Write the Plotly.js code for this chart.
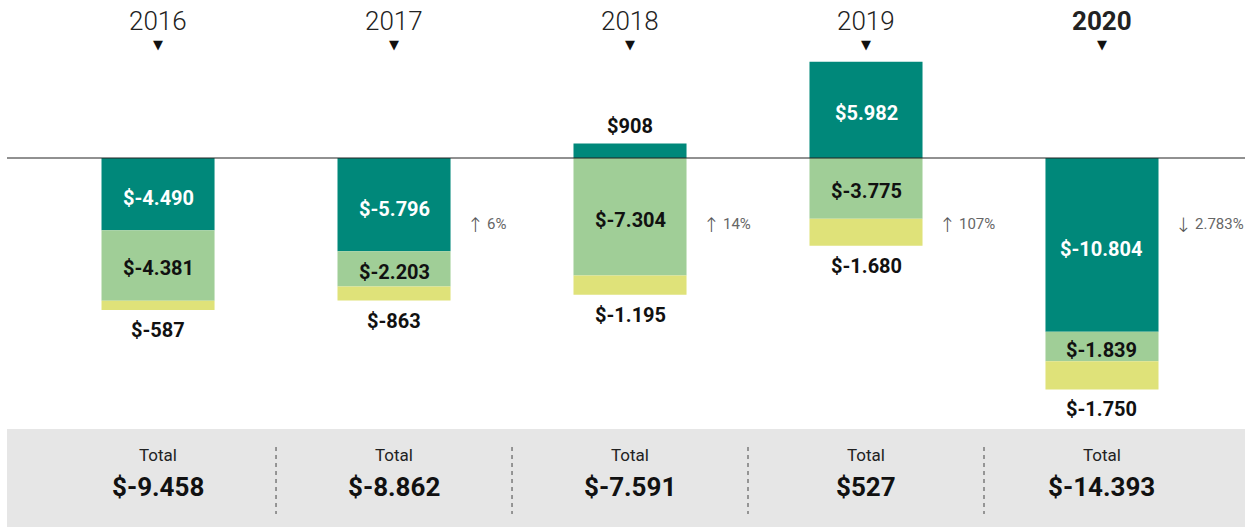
<!DOCTYPE html>
<html>
<head>
<meta charset="utf-8">
<script src="https://cdn.plot.ly/plotly-3.0.1.min.js"></script>
<style>html,body{margin:0;padding:0;background:#fff;}#chart{width:1253px;height:527px;}</style>
</head>
<body>
<div id="chart"></div>
<script>
const years = ['2016', '2017', '2018', '2019', '2020'];
const darkVals = [-4490, -5796, 908, 5982, -10804];
const lightVals = [-4381, -2203, -7304, -3775, -1839];
const yellowVals = [-587, -863, -1195, -1680, -1750];
const totals = [-9458, -8862, -7591, 527, -14393];
const changeArrows = ['', '↑', '↑', '↑', '↓'];
const changeLabels = ['', '6%', '14%', '107%', '2.783%'];
const highlightYear = '2020';
const totalLabel = 'Total';

const W = 1253, H = 527;
const DARK = '#00887A', LIGHT = '#A0CE97', YELLOW = '#DFE279';
const FONT = 'Roboto, "Open Sans", sans-serif';

function fmt(v) {
  const s = Math.abs(v).toString().replace(/\B(?=(\d{3})+(?!\d))/g, '.');
  return '$' + (v < 0 ? '-' : '') + s;
}
function py(p) { return 1 - p / H; }

const idx = years.map((_, i) => i);
const barW = 0.479;
const traces = [
  {type: 'bar', x: idx, y: darkVals, marker: {color: DARK}, width: barW, hoverinfo: 'skip'},
  {type: 'bar', x: idx, y: lightVals, marker: {color: LIGHT}, width: barW, hoverinfo: 'skip'},
  {type: 'bar', x: idx, y: yellowVals, marker: {color: YELLOW}, width: barW, hoverinfo: 'skip'}
];

const yMax = 9826, yMin = -22948;
const pxPerUnit = H / (yMax - yMin);
const ann = [];
const shapes = [];

shapes.push({type: 'rect', xref: 'paper', yref: 'paper', x0: 0, x1: 1, y0: 0, y1: py(429),
  fillcolor: '#E6E6E6', line: {width: 0}, layer: 'below'});
shapes.push({type: 'line', xref: 'paper', yref: 'y', x0: 0, x1: 1, y0: 0, y1: 0,
  line: {color: '#222', width: 1}, layer: 'above'});

const bold = (size, color) => ({family: FONT, size: size, color: color, weight: 700});
const A = (o) => Object.assign({showarrow: false, xanchor: 'center', yanchor: 'middle'}, o);

years.forEach((yr, i) => {
  const hl = yr === highlightYear;
  ann.push(A({x: i, xref: 'x', y: py(21), yref: 'paper', text: yr,
    font: {family: FONT, size: 26, color: '#222', weight: hl ? 700 : 300}}));
  ann.push(A({x: i, xref: 'x', y: py(44), yref: 'paper', text: '▼',
    font: {family: 'DejaVu Sans', size: 13, color: '#111'}}));

  const d = darkVals[i];
  const dpx = Math.abs(d) * pxPerUnit;
  if (dpx >= 30) {
    ann.push(A({x: i, y: d / 2, yshift: d < 0 ? -4 : -3, text: fmt(d), font: bold(20, '#fff')}));
  } else {
    ann.push(A({x: i, y: d, yanchor: 'bottom', yshift: 3, text: fmt(d), font: bold(20, '#111')}));
  }
  const base = Math.min(d, 0);
  const l = lightVals[i];
  ann.push(A({x: i, y: base + l / 2, yshift: -3, text: fmt(l), font: bold(20, '#111')}));
  const ybot = base + l + yellowVals[i];
  ann.push(A({x: i, y: ybot, yanchor: 'top', yshift: -6, text: fmt(yellowVals[i]), font: bold(20, '#111')}));

  if (changeLabels[i]) {
    ann.push(A({x: i + 0.345, y: py(225), yref: 'paper', text: changeArrows[i],
      font: {family: 'DejaVu Sans', size: 20, color: '#555', weight: 200}}));
    ann.push(A({x: i + 0.345, xanchor: 'left', xshift: 10, y: py(224), yref: 'paper', text: changeLabels[i],
      font: {family: FONT, size: 15, color: '#666'}}));
  }

  ann.push(A({x: i, y: py(455), yref: 'paper', text: totalLabel,
    font: {family: FONT, size: 17, color: '#222'}}));
  ann.push(A({x: i, y: py(487), yref: 'paper', text: fmt(totals[i]),
    font: bold(26, '#111')}));

  if (i < years.length - 1) {
    shapes.push({type: 'line', xref: 'x', yref: 'paper', x0: i + 0.5, x1: i + 0.5, y0: py(447), y1: py(514),
      line: {color: '#444', width: 1, dash: '4px,4px'}});
  }
});

const layout = {
  width: W, height: H,
  margin: {l: 7, r: 8, t: 0, b: 0, pad: 0},
  paper_bgcolor: '#fff', plot_bgcolor: 'rgba(0,0,0,0)',
  barmode: 'relative',
  showlegend: false,
  xaxis: {range: [-0.64, 4.606], visible: false, fixedrange: true},
  yaxis: {range: [yMin, yMax], visible: false, fixedrange: true, zeroline: false},
  annotations: ann,
  shapes: shapes,
  font: {family: FONT}
};

Plotly.newPlot('chart', traces, layout, {staticPlot: true, displayModeBar: false});
</script>
</body>
</html>
